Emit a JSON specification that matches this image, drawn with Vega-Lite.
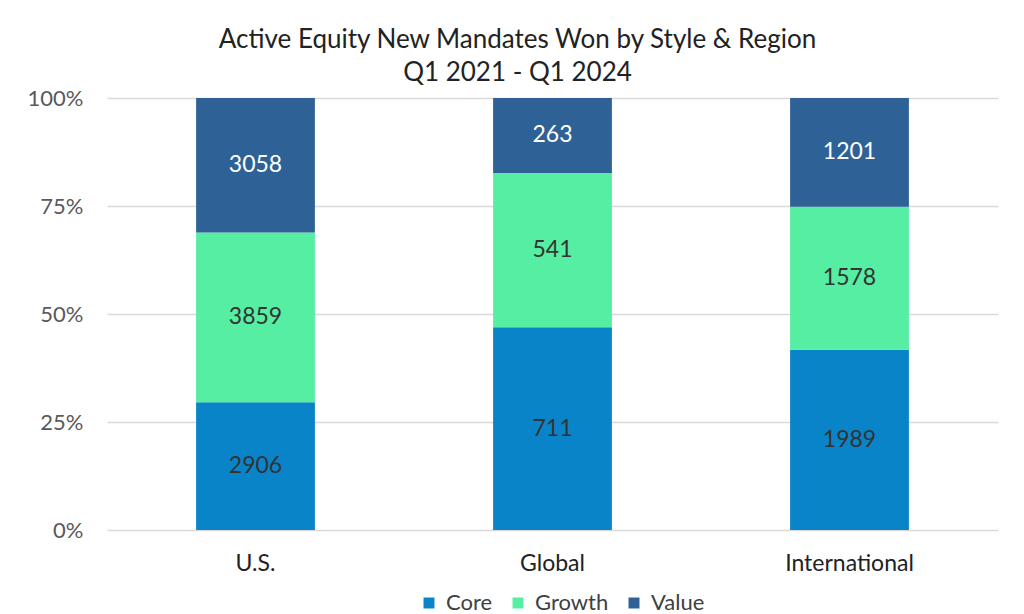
{
  "$schema": "https://vega.github.io/schema/vega-lite/v6.json",
  "width": 891,
  "height": 432,
  "autosize": {"type": "none"},
  "padding": {"left": 107, "top": 98, "right": 26, "bottom": 84},
  "background": "white",
  "view": {"stroke": null},
  "title": {
    "text": ["Active Equity New Mandates Won by Style & Region", "Q1 2021 - Q1 2024"],
    "font": "Lato",
    "fontSize": 26,
    "fontWeight": "normal",
    "color": "#222222",
    "lineHeight": 33,
    "anchor": "middle",
    "dx": -35,
    "offset": 1
  },
  "data": {
    "values": [
      {"region": "U.S.", "style": "Core", "count": 2906},
      {"region": "U.S.", "style": "Growth", "count": 3859},
      {"region": "U.S.", "style": "Value", "count": 3058},
      {"region": "Global", "style": "Core", "count": 711},
      {"region": "Global", "style": "Growth", "count": 541},
      {"region": "Global", "style": "Value", "count": 263},
      {"region": "International", "style": "Core", "count": 1989},
      {"region": "International", "style": "Growth", "count": 1578},
      {"region": "International", "style": "Value", "count": 1201}
    ]
  },
  "encoding": {
    "x": {
      "field": "region",
      "type": "nominal",
      "sort": ["U.S.", "Global", "International"],
      "scale": {"paddingInner": 0.6, "paddingOuter": 0.3},
      "axis": {
        "title": null,
        "labelAngle": 0,
        "labelFont": "Lato",
        "labelFontSize": 23,
        "labelColor": "#222222",
        "labelPadding": 22,
        "domain": false,
        "ticks": false
      }
    },
    "y": {
      "field": "count",
      "type": "quantitative",
      "stack": "normalize",
      "scale": {"domain": [0, 1]},
      "axis": {
        "title": null,
        "values": [0, 0.25, 0.5, 0.75, 1],
        "format": ".0%",
        "labelFont": "Lato",
        "labelFontSize": 22,
        "labelColor": "#595959",
        "labelPadding": 24,
        "domain": false,
        "ticks": false,
        "gridColor": "#d9d9d9",
        "gridWidth": 1.5
      }
    },
    "order": {"field": "style", "sort": "ascending"}
  },
  "layer": [
    {
      "mark": {"type": "bar"},
      "encoding": {
        "color": {
          "field": "style",
          "type": "nominal",
          "scale": {"domain": ["Core", "Growth", "Value"], "range": ["#0a84c8", "#55eea2", "#2e6296"]},
          "legend": {
            "title": null,
            "orient": "none",
            "direction": "horizontal",
            "legendX": 311,
            "legendY": 494,
            "symbolType": "square",
            "symbolSize": 120,
            "symbolStrokeWidth": 0,
            "labelFont": "Lato",
            "labelFontSize": 22,
            "labelColor": "#404040",
            "columnPadding": 14,
            "labelOffset": 6
          }
        }
      }
    },
    {
      "mark": {"type": "text", "font": "Lato", "fontSize": 23, "baseline": "middle"},
      "encoding": {
        "y": {"field": "count", "type": "quantitative", "stack": "normalize", "bandPosition": 0.5},
        "text": {"field": "count", "type": "quantitative", "format": "d"},
        "color": {
          "condition": {"test": "datum.style === 'Value'", "value": "#ffffff"},
          "value": "#333333"
        }
      }
    }
  ]
}
